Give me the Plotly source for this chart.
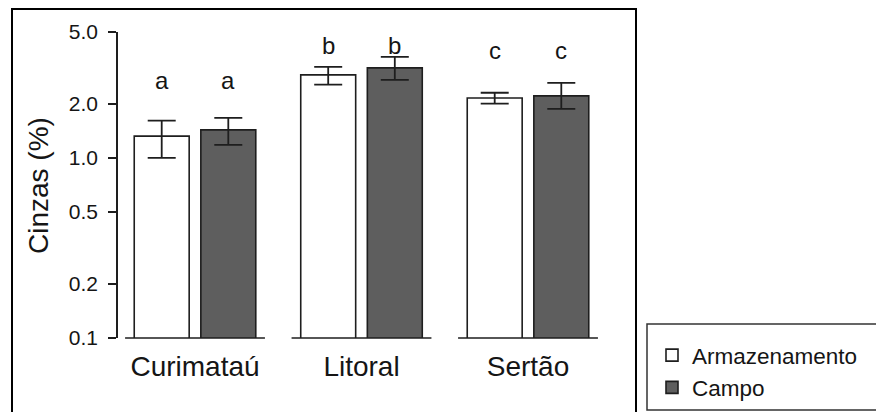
import numpy as np
import plotly.graph_objects as go

categories = ["Curimataú", "Litoral", "Sertão"]
series_names = ["Armazenamento", "Campo"]
arm = [1.32, 2.89, 2.15]
arm_hi = [1.61, 3.20, 2.30]
arm_lo = [1.00, 2.55, 2.00]
campo = [1.43, 3.16, 2.21]
campo_hi = [1.67, 3.64, 2.61]
campo_lo = [1.18, 2.71, 1.87]
letters = ["a", "b", "c"]
letter_y = [2.33, 3.64, 3.41]
ytick_vals = [0.1, 0.2, 0.5, 1.0, 2.0, 5.0]
ytick_text = ["0.1", "0.2", "0.5", "1.0", "2.0", "5.0"]

FONT = "Liberation Sans, Arial, sans-serif"
TXT = "#151515"
DARK = "#5e5e5e"
W, H = 876, 412
L, R, T, B = 118, 610, 32, 338  # plot area in pixels

def px2x(p):
    return (p - L) / (R - L)

def px2y(p):
    return (B - p) / (B - T)

x = np.arange(len(categories))

fig = go.Figure()
for name, vals, hi, lo, fill in [
    (series_names[0], arm, arm_hi, arm_lo, "white"),
    (series_names[1], campo, campo_hi, campo_lo, DARK),
]:
    v = np.array(vals)
    fig.add_trace(go.Bar(
        x=x, y=v, name=name,
        marker=dict(color=fill, line=dict(color="#1e1e1e", width=1.6)),
        error_y=dict(type="data", symmetric=False,
                     array=np.array(hi) - v, arrayminus=v - np.array(lo),
                     color="#1e1e1e", thickness=1.8, width=14),
    ))

annotations = []
offsets = [-0.2, 0.2]
for i, (lt, ly) in enumerate(zip(letters, letter_y)):
    for off in offsets:
        annotations.append(dict(
            x=i + off, y=np.log10(ly), xref="x", yref="y", text=lt,
            showarrow=False, yanchor="bottom", xanchor="center", yshift=-4,
            font=dict(family=FONT, size=24, color=TXT)))

annotations.append(dict(
    x=px2x(38), y=px2y(186), xref="paper", yref="paper", text="Cinzas (%)",
    textangle=-90, showarrow=False, xanchor="center", yanchor="middle",
    font=dict(family=FONT, size=28, color=TXT)))

shapes = []
for i in x:
    shapes.append(dict(type="line", xref="x", yref="paper",
                       x0=i - 0.42, x1=i + 0.42, y0=0, y1=0,
                       line=dict(color="#1e1e1e", width=1.6)))
shapes.append(dict(type="rect", xref="paper", yref="paper",
                   x0=px2x(12), x1=px2x(636), y0=px2y(430), y1=px2y(9),
                   line=dict(color="black", width=2)))
shapes.append(dict(type="rect", xref="paper", yref="paper",
                   x0=px2x(647), x1=px2x(890), y0=px2y(410), y1=px2y(324),
                   line=dict(color="#333", width=1.5)))

fig.update_layout(
    width=W, height=H,
    margin=dict(l=L, r=W - R, t=T, b=H - B, pad=0, autoexpand=False),
    paper_bgcolor="white", plot_bgcolor="white",
    barmode="group", bargap=0.2, bargroupgap=0.175,
    font=dict(family=FONT, color=TXT),
    showlegend=True,
    legend=dict(x=px2x(652), y=px2y(334), xanchor="left", yanchor="top",
                bgcolor="rgba(0,0,0,0)", borderwidth=0,
                font=dict(family=FONT, size=22.5, color=TXT),
                itemwidth=30, tracegroupgap=0),
    annotations=annotations,
    shapes=shapes,
)
fig.update_xaxes(range=[-0.4625, 2.4925], tickvals=list(x), ticktext=categories,
                 showline=False, showgrid=False, zeroline=False, ticks="",
                 automargin=False,
                 tickfont=dict(family=FONT, size=28, color=TXT),
                 ticklabelstandoff=9)
fig.update_yaxes(type="log", range=[-1, np.log10(5)], tickvals=ytick_vals,
                 ticktext=ytick_text, showline=True, linecolor="#1e1e1e",
                 linewidth=1.6, ticks="outside", ticklen=8, tickwidth=1.6,
                 tickcolor="#1e1e1e", showgrid=False, zeroline=False,
                 automargin=False,
                 tickfont=dict(family=FONT, size=21, color=TXT),
                 ticklabelstandoff=6)

fig.write_html("out.html")
